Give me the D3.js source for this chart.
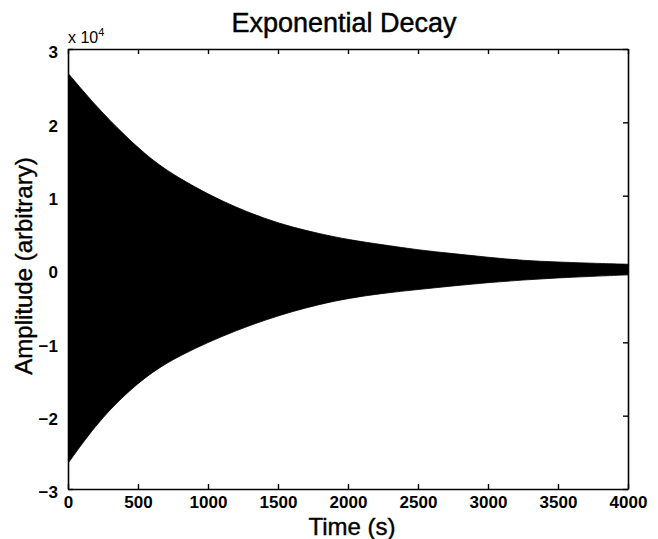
<!DOCTYPE html>
<html>
<head>
<meta charset="utf-8">
<script src="https://cdn.jsdelivr.net/npm/d3@7"></script>
<style>
    body { margin: 0; background: #fff; }
    #chart-area { width: 658px; height: 539px; }
    text { font-family: "Liberation Sans", Arial, Helvetica, sans-serif; fill: #000; }
    .tick-label { font-size: 17px; font-weight: bold; }
    .axis-title { font-size: 24px; stroke: #000; stroke-width: 0.4px; }
    .vistitle { font-size: 27px; stroke: #000; stroke-width: 0.45px; }
</style>
</head>
<body>
<div id="chart-area"></div>
<script>

// envelope of the decaying signal (amplitude units)
const times = [0, 200, 400, 600, 800, 1000, 1200, 1400, 1600, 1800, 2000, 2250, 2500, 2750, 3000, 3250, 3500, 3750, 4000];
const upperEnv = [26700, 22200, 18300, 14800, 12300, 10200, 8400, 6900, 5700, 4800, 4000, 3300, 2600, 2100, 1600, 1150, 950, 780, 650];
const lowerEnv = [-26500, -21200, -17200, -14000, -11800, -10000, -8400, -7000, -5800, -4800, -4000, -3300, -2800, -2300, -1850, -1500, -1200, -1000, -800];

// axes
const xTicks = [0, 500, 1000, 1500, 2000, 2500, 3000, 3500, 4000];
const yTicks = [-30000, -20000, -10000, 0, 10000, 20000, 30000];
const yTickLabels = ["\u22123", "\u22122", "\u22121", "0", "1", "2", "3"];

class DecayChart {
    constructor(parentElement, title) {
        this.parentElement = parentElement;
        this.title = title;
        this.data = times.map((t, i) => ({t: t, hi: upperEnv[i], lo: lowerEnv[i]}));
        this.initVis();
    }

    initVis() {
        let vis = this;

        vis.margin = {top: 49, right: 30, bottom: 50, left: 68};
        vis.width = 658 - vis.margin.left - vis.margin.right;
        vis.height = 539 - vis.margin.top - vis.margin.bottom;

        vis.svg = d3.select("#" + vis.parentElement).append("svg")
            .attr("width", 658)
            .attr("height", 539)
            .append("g")
            .attr("transform", "translate(" + vis.margin.left + "," + vis.margin.top + ")");

        vis.x = d3.scaleLinear().domain([0, 4000]).range([0, vis.width]);
        vis.y = d3.scaleLinear().domain([-30000, 30000]).range([vis.height, 0]);

        vis.svg.append("clipPath").attr("id", "clip")
            .append("rect").attr("width", vis.width).attr("height", vis.height);

        // filled signal
        vis.area = d3.area()
            .x(d => vis.x(d.t))
            .y0(d => vis.y(d.lo))
            .y1(d => vis.y(d.hi))
            .curve(d3.curveBasis);

        vis.svg.append("path")
            .datum(vis.data)
            .attr("clip-path", "url(#clip)")
            .attr("fill", "#000")
            .attr("stroke", "#000")
            .attr("stroke-width", 0.8)
            .attr("d", vis.area);

        // axes, ticks pointing inward, box all round
        vis.svg.append("g")
            .attr("transform", "translate(0," + vis.height + ")")
            .call(d3.axisBottom(vis.x).tickValues(xTicks).tickSizeInner(-5).tickSizeOuter(0).tickPadding(7).tickFormat(d3.format("d")));
        vis.svg.append("g")
            .call(d3.axisTop(vis.x).tickValues(xTicks).tickSizeInner(-5).tickSizeOuter(0).tickFormat(""));
        vis.svg.append("g")
            .call(d3.axisLeft(vis.y).tickValues(yTicks).tickSizeInner(-5).tickSizeOuter(0).tickPadding(10)
                .tickFormat((d, i) => yTickLabels[i]));
        vis.svg.append("g")
            .attr("transform", "translate(" + vis.width + ",0)")
            .call(d3.axisRight(vis.y).tickValues(yTicks).tickSizeInner(-5).tickSizeOuter(0).tickFormat(""));

        vis.svg.selectAll(".domain").attr("stroke", "#000").attr("stroke-width", 1.6);
        vis.svg.selectAll(".tick line").attr("stroke", "#000").attr("stroke-width", 1.4);
        vis.svg.selectAll(".tick text")
            .attr("class", "tick-label")
            .attr("font-family", null)
            .attr("font-size", null);
        vis.svg.selectAll(".tick text").filter(function() { return this.getAttribute("x") !== null && +this.getAttribute("x") < 0; })
            .attr("dy", "0.52em");

        // exponent label
        let expo = vis.svg.append("text")
            .attr("x", 0)
            .attr("y", -6)
            .style("font-size", "16px");
        expo.append("tspan").text("x 10");
        expo.append("tspan").attr("dy", -7).style("font-size", "11px").text("4");

        // titles
        vis.svg.append("text")
            .attr("class", "vistitle")
            .attr("x", vis.width / 2 - 4)
            .attr("y", -17)
            .style("text-anchor", "middle")
            .text(vis.title);

        vis.svg.append("text")
            .attr("class", "axis-title")
            .attr("x", vis.width / 2 + 4)
            .attr("y", vis.height + 46)
            .style("text-anchor", "middle")
            .text("Time (s)");

        vis.svg.append("text")
            .attr("class", "axis-title")
            .attr("transform", "translate(" + (-36) + "," + (vis.height / 2 - 3) + ") rotate(-90)")
            .style("text-anchor", "middle")
            .text("Amplitude (arbitrary)");
    }
}

new DecayChart("chart-area", "Exponential Decay");

</script>
</body>
</html>
